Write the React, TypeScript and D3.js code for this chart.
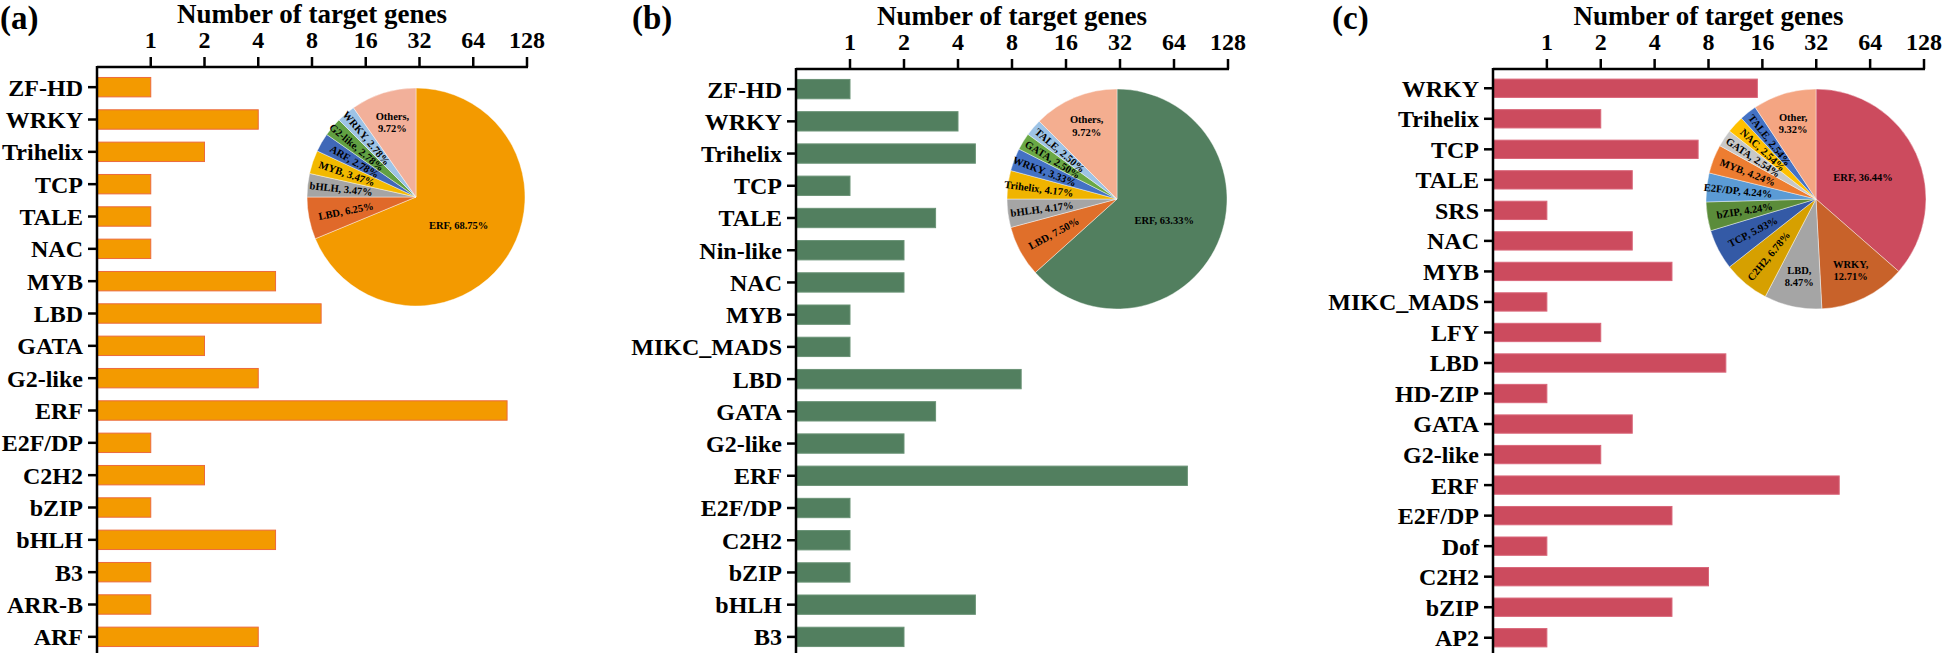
import * as d3 from "d3"

const FONT = '"Liberation Serif", "Times New Roman", serif'

// (a)
const catsA = ["ZF-HD", "WRKY", "Trihelix", "TCP", "TALE", "NAC", "MYB", "LBD", "GATA", "G2-like", "ERF", "E2F/DP", "C2H2", "bZIP", "bHLH", "B3", "ARR-B", "ARF"]
const valsA = [1, 4, 2, 1, 1, 1, 5, 9, 2, 4, 99, 1, 2, 1, 5, 1, 1, 4]
const pieNamesA = ["ERF", "LBD", "bHLH", "MYB", "ARF", "G2-like", "WRKY", "Others"]
const pieValsA = [99, 9, 5, 5, 4, 4, 4, 14]
const piePctA = ["68.75%", "6.25%", "3.47%", "3.47%", "2.78%", "2.78%", "2.78%", "9.72%"]
const pieColorsA = ["#f39a00", "#e0692a", "#a5a5a5", "#f2b900", "#4068b8", "#62a043", "#9dc3e6", "#f2b09a"]

// (b)
const catsB = ["ZF-HD", "WRKY", "Trihelix", "TCP", "TALE", "Nin-like", "NAC", "MYB", "MIKC_MADS", "LBD", "GATA", "G2-like", "ERF", "E2F/DP", "C2H2", "bZIP", "bHLH", "B3"]
const valsB = [1, 4, 5, 1, 3, 2, 2, 1, 1, 9, 3, 2, 76, 1, 1, 1, 5, 2]
const pieNamesB = ["ERF", "LBD", "bHLH", "Trihelix", "WRKY", "GATA", "TALE", "Others"]
const pieValsB = [76, 9, 5, 5, 4, 3, 3, 15]
const piePctB = ["63.33%", "7.50%", "4.17%", "4.17%", "3.33%", "2.50%", "2.50%", "9.72%"]
const pieColorsB = ["#527f5f", "#e06f2a", "#a5a5a5", "#f0b400", "#4472c4", "#6aa845", "#9dc3e6", "#f4ae90"]

// (c)
const catsC = ["WRKY", "Trihelix", "TCP", "TALE", "SRS", "NAC", "MYB", "MIKC_MADS", "LFY", "LBD", "HD-ZIP", "GATA", "G2-like", "ERF", "E2F/DP", "Dof", "C2H2", "bZIP", "AP2"]
const valsC = [15, 2, 7, 3, 1, 3, 5, 1, 2, 10, 1, 3, 2, 43, 5, 1, 8, 5, 1]
const pieNamesC = ["ERF", "WRKY", "LBD", "C2H2", "TCP", "bZIP", "E2F/DP", "MYB", "GATA", "NAC", "TALE", "Other"]
const pieValsC = [43, 15, 10, 8, 7, 5, 5, 5, 3, 3, 3, 11]
const piePctC = ["36.44%", "12.71%", "8.47%", "6.78%", "5.93%", "4.24%", "4.24%", "4.24%", "2.54%", "2.54%", "2.54%", "9.32%"]
const pieColorsC = ["#cc4b5e", "#c8622a", "#a5a5a5", "#d6a000", "#345aa6", "#5b8c3a", "#5b9bd5", "#ed7d31", "#c8c8c8", "#ffc000", "#4472c4", "#f4a582"]

const xTicks = [1, 2, 4, 8, 16, 32, 64, 128]

type PanelProps = {
  tag: string
  tagX: number
  left: number
  right: number
  axisY: number
  cats: string[]
  vals: number[]
  barFill: string
  barStroke: string
  pieNames: string[]
  pieVals: number[]
  piePct: string[]
  pieColors: string[]
  cx: number
  cy: number
  r: number
}

const Panel = (p: PanelProps) => {
  const x = d3.scaleLog().base(2).domain([0.5, 128]).range([p.left, p.right])
  const y = d3
    .scaleBand<string>()
    .domain(p.cats)
    .range([p.axisY + 4, 653])
    .paddingInner(0.4)
    .paddingOuter(0.2)
  const bottom = 653

  const pie = d3.pie<number>().sort(null).value((d) => d)
  const arcs = pie(p.pieVals)
  const arc = d3.arc<d3.PieArcDatum<number>>().innerRadius(0).outerRadius(p.r)
  const total = d3.sum(p.pieVals)

  return (
    <g fontFamily={FONT} fontWeight="bold">
      <text x={p.tagX} y={29} fontSize={33}>{p.tag}</text>
      <text x={(p.left + p.right) / 2} y={p.axisY - 44} fontSize={27} textAnchor="middle">
        Number of target genes
      </text>

      {p.cats.map((c, i) => (
        <rect
          key={c}
          x={x(0.5)}
          y={y(c)}
          width={x(p.vals[i]) - x(0.5)}
          height={y.bandwidth()}
          fill={p.barFill}
          stroke={p.barStroke}
          strokeWidth={1}
        />
      ))}

      {/* top axis */}
      <line x1={p.left} x2={p.right + 1} y1={p.axisY} y2={p.axisY} stroke="#000" strokeWidth={2.5} />
      {xTicks.map((t) => (
        <g key={t}>
          <line x1={x(t)} x2={x(t)} y1={p.axisY} y2={p.axisY - 10} stroke="#000" strokeWidth={2.5} />
          <text x={x(t)} y={p.axisY - 19} fontSize={24} textAnchor="middle">{t}</text>
        </g>
      ))}

      {/* left axis */}
      <line x1={p.left} x2={p.left} y1={p.axisY - 1} y2={bottom} stroke="#000" strokeWidth={2.5} />
      {p.cats.map((c) => {
        const cy = (y(c) ?? 0) + y.bandwidth() / 2
        return (
          <g key={c}>
            <line x1={p.left - 9} x2={p.left} y1={cy} y2={cy} stroke="#000" strokeWidth={2.5} />
            <text x={p.left - 14} y={cy} dy="0.35em" fontSize={24} textAnchor="end">{c}</text>
          </g>
        )
      })}

      {/* inset pie */}
      <g transform={`translate(${p.cx},${p.cy})`}>
        {arcs.map((a, i) => (
          <path key={i} d={arc(a) ?? ""} fill={p.pieColors[i]} stroke="#fff" strokeWidth={0.6} strokeOpacity={0.7} />
        ))}
        {arcs.map((a, i) => {
          const mid = (a.startAngle + a.endAngle) / 2
          const sx = Math.sin(mid)
          const cyv = -Math.cos(mid)
          const share = p.pieVals[i] / total
          if (i === 0) {
            const rr = p.r * 0.47
            return (
              <text key={i} x={sx * rr} y={cyv * rr} dy="0.35em" fontSize={10.5} textAnchor="middle">
                {p.pieNames[i]}, {p.piePct[i]}
              </text>
            )
          }
          if (share >= 0.08) {
            const rr = p.r * 0.72
            return (
              <text key={i} x={sx * rr} y={cyv * rr} fontSize={10.5} textAnchor="middle">
                <tspan x={sx * rr} dy="-0.25em">{p.pieNames[i]},</tspan>
                <tspan x={sx * rr} dy="1.2em">{p.piePct[i]}</tspan>
              </text>
            )
          }
          const rr = p.r * 0.4
          const rot = (Math.atan2(Math.cos(mid), -Math.sin(mid)) * 180) / Math.PI
          return (
            <text
              key={i}
              transform={`translate(${sx * rr},${cyv * rr}) rotate(${rot})`}
              dy="0.35em"
              fontSize={10.5}
              textAnchor="end"
            >
              {p.pieNames[i]}, {p.piePct[i]}
            </text>
          )
        })}
      </g>
    </g>
  )
}

export default function App() {
  return (
    <svg
      width={1943}
      height={656}
      viewBox="0 0 1943 656"
      style={{ position: "absolute", left: 0, top: 0, display: "block", background: "#fff" }}
    >
      <rect width={1943} height={656} fill="#fff" />
      <Panel
        tag="(a)" tagX={0} left={97} right={527} axisY={67}
        cats={catsA} vals={valsA} barFill="#f39a00" barStroke="#ec6a3c"
        pieNames={pieNamesA} pieVals={pieValsA} piePct={piePctA} pieColors={pieColorsA}
        cx={416} cy={197} r={109}
      />
      <Panel
        tag="(b)" tagX={632} left={796} right={1228} axisY={69}
        cats={catsB} vals={valsB} barFill="#527f5f" barStroke="#6a9376"
        pieNames={pieNamesB} pieVals={pieValsB} piePct={piePctB} pieColors={pieColorsB}
        cx={1117} cy={199} r={110}
      />
      <Panel
        tag="(c)" tagX={1332} left={1493} right={1924} axisY={69}
        cats={catsC} vals={valsC} barFill="#cc4b5e" barStroke="#d9677a"
        pieNames={pieNamesC} pieVals={pieValsC} piePct={piePctC} pieColors={pieColorsC}
        cx={1816} cy={199} r={110}
      />
    </svg>
  )
}
